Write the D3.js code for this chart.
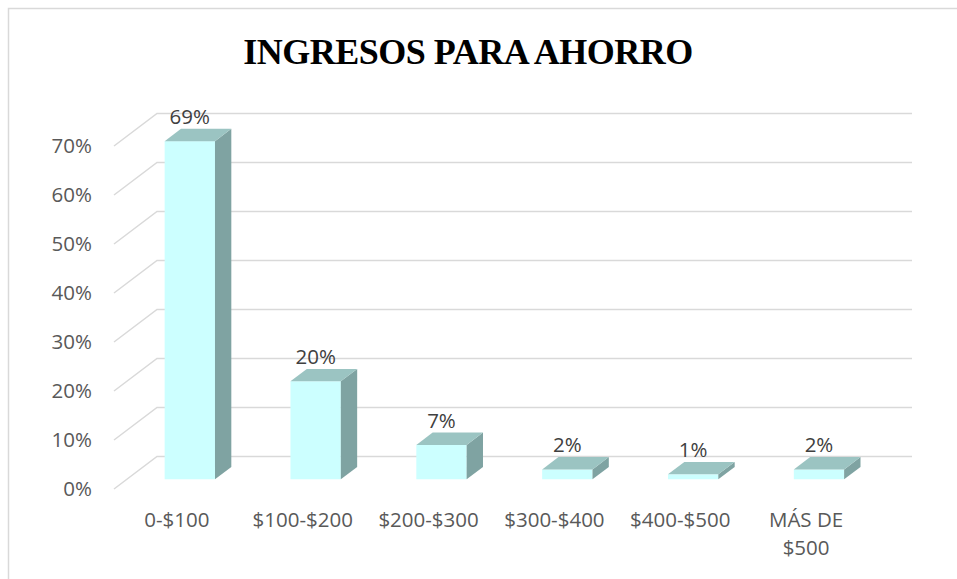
<!DOCTYPE html>
<html>
<head>
<meta charset="utf-8">
<script src="https://cdn.jsdelivr.net/npm/d3@7"></script>
<style>
  body { margin: 0; background: #fff; }
  text { font-family: "Open Sans", sans-serif; }
</style>
</head>
<body>
<script>
// data
var categories = ["0-$100", "$100-$200", "$200-$300", "$300-$400", "$400-$500", "MÁS DE $500"];
var percents = [69, 20, 7, 2, 1, 2];
var ticks = [0, 10, 20, 30, 40, 50, 60, 70];

var W = 957, H = 579;
var svg = d3.select("body").append("svg").attr("width", W).attr("height", H);

// chart frame (runs off the right/bottom edges)
svg.append("rect")
  .attr("x", 8.5).attr("y", 8.5).attr("width", W + 20).attr("height", H + 20)
  .attr("fill", "none").attr("stroke", "#d9d9d9").attr("stroke-width", 1.5);

svg.append("text")
  .attr("x", 468).attr("y", 64)
  .attr("text-anchor", "middle")
  .style("font-family", "'Liberation Serif', 'Times New Roman', serif")
  .style("font-weight", "bold")
  .style("font-size", "36px")
  .style("letter-spacing", "-0.5px")
  .attr("fill", "#000")
  .text("INGRESOS PARA AHORRO");

// front plane scales, depth goes back along (ddx, ddy)
var x = d3.scaleBand().domain(categories).range([114, 869]);
var y = d3.scaleLinear().domain([0, 70]).range([489, 146]);
var ddx = 43, ddy = -32.5;

var grid = svg.append("g");
ticks.forEach(function (t) {
  var yy = y(t);
  grid.append("path")
    .attr("d", "M114," + yy + "L" + (114 + ddx) + "," + (yy + ddy) + "H912")
    .attr("fill", "none").attr("stroke", "#d9d9d9").attr("stroke-width", 1.5);
  grid.append("text")
    .attr("x", 92).attr("y", yy).attr("dy", "0.35em")
    .attr("text-anchor", "end")
    .style("font-size", "20.5px")
    .attr("fill", "#595959")
    .text(t + "%");
});

// bars sit between depth 0.3 and 0.68
var d0 = 0.3, d1 = 0.68;
var bw = x.bandwidth() * 0.4;
var bars = svg.append("g");
categories.forEach(function (c, i) {
  var v = percents[i];
  var cx = x(c) + x.bandwidth() / 2 + d0 * ddx;
  var xl = cx - bw / 2, xr = cx + bw / 2;
  var yb = y(0) + d0 * ddy, yt = y(v) + d0 * ddy;
  var bx = (d1 - d0) * ddx, by = (d1 - d0) * ddy;

  bars.append("rect")
    .attr("x", xl).attr("y", yt).attr("width", bw).attr("height", yb - yt)
    .attr("fill", "#ccffff");
  bars.append("path")
    .attr("d", "M" + xr + "," + yt + "L" + (xr + bx) + "," + (yt + by) + "L" + (xr + bx) + "," + (yb + by) + "L" + xr + "," + yb + "Z")
    .attr("fill", "#7fa3a2");
  bars.append("path")
    .attr("d", "M" + xl + "," + yt + "L" + (xl + bx) + "," + (yt + by) + "L" + (xr + bx) + "," + (yt + by) + "L" + xr + "," + yt + "Z")
    .attr("fill", "#9bc4c2");

  bars.append("text")
    .attr("x", cx).attr("y", yt + by - 5)
    .attr("text-anchor", "middle")
    .style("font-size", "20.5px")
    .attr("fill", "#404040")
    .text(v + "%");
});

// category labels, wrapped when wider than the band
var lab = svg.append("g");
categories.forEach(function (c) {
  var t = lab.append("text")
    .attr("x", x(c) + x.bandwidth() / 2).attr("y", 527)
    .attr("text-anchor", "middle")
    .style("font-size", "20.5px")
    .attr("fill", "#595959")
    .text(c);
  if (t.node().getComputedTextLength() > x.bandwidth() - 8) {
    var words = c.split(" ");
    var last = words.pop();
    t.text(null);
    t.append("tspan").attr("x", t.attr("x")).text(words.join(" "));
    t.append("tspan").attr("x", t.attr("x")).attr("dy", 28).text(last);
  }
});
</script>
</body>
</html>
